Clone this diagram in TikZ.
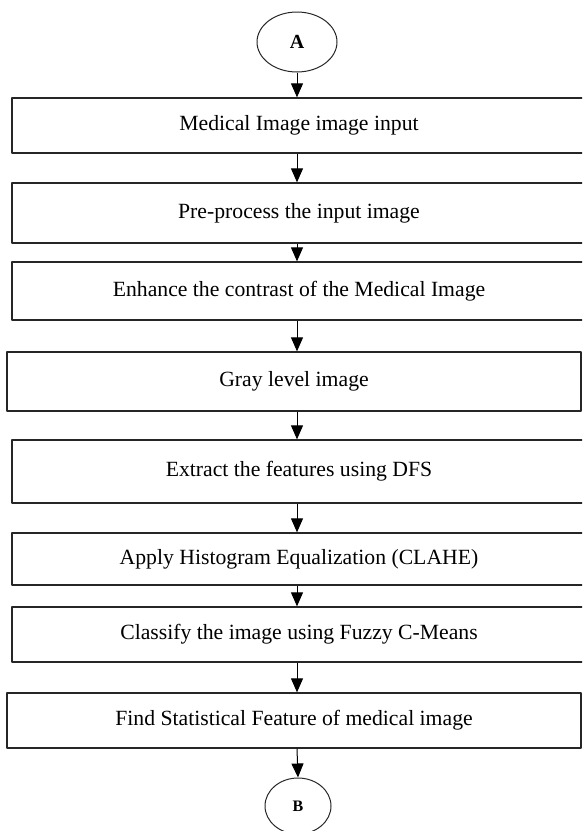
\documentclass[tikz,border=0pt]{standalone}
\usepackage{fontspec}
\setmainfont{Liberation Serif}
\usetikzlibrary{arrows.meta,shapes.geometric}
\begin{document}
\begin{tikzpicture}[x=1pt,y=-1pt,line join=round,>={Triangle[length=14pt,width=12pt]},
	font=\fontsize{21.7}{24}\selectfont,
	box/.style={draw=black!85,line width=1.3pt,rectangle,inner sep=0pt,minimum width=574pt},
	conn/.style={draw=black!85,ellipse,line width=1pt,inner sep=0pt,font=\fontsize{20}{22}\selectfont\bfseries}]
	\useasboundingbox (0,0) rectangle (582,831);
	\clip (0,0) rectangle (582,831);
	\path
	(297,42) node[conn,minimum width=80pt,minimum height=60pt] (A) {A}
	(299,125.5) node[box,minimum height=55pt] (b1) {Medical Image image input}
	(299,213) node[box,minimum height=60pt] (b2) {Pre-process the input image}
	(299,291) node[box,minimum height=58pt] (b3) {Enhance the contrast of the Medical Image}
	(294,381.5) node[box,minimum height=59pt] (b4) {Gray level image}
	(299,471.5) node[box,minimum height=63pt] (b5) {Extract the features using DFS}
	(299,559) node[box,minimum height=52pt] (b6) {Apply Histogram Equalization (CLAHE)}
	(299,634.5) node[box,minimum height=55pt] (b7) {Classify the image using Fuzzy C-Means}
	(294,720.5) node[box,minimum height=55pt] (b8) {Find Statistical Feature of medical image}
	(298,806) node[conn,minimum width=66pt,minimum height=56pt,font=\fontsize{16}{18}\selectfont\bfseries] (B) {B};
	\draw[->,line width=1pt](A.south)--(A.south|-b1.north);
	\foreach \u/\v in {b1/b2,b2/b3,b3/b4,b4/b5,b5/b6,b6/b7,b7/b8}
		\draw[->,line width=1pt](A.south|-\u.south)--(A.south|-\v.north);
	\draw[->,line width=1pt](A.south|-b8.south)--(B.north);
\end{tikzpicture}
\end{document}
